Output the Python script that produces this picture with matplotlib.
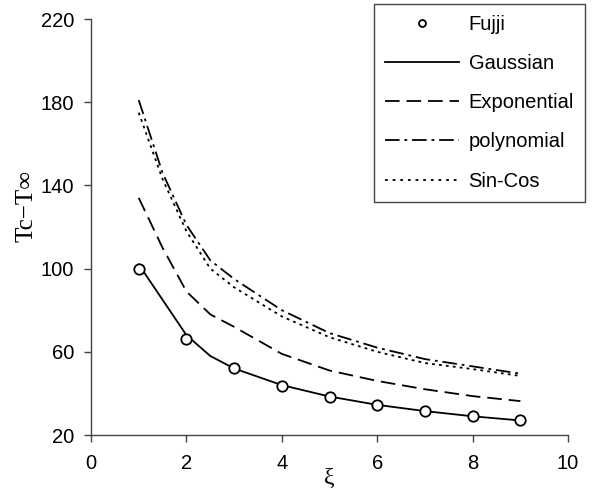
import matplotlib
matplotlib.use("Agg")
import matplotlib.pyplot as plt
from matplotlib.lines import Line2D

# values
xi_fujji = [1, 2, 3, 4, 5, 6, 7, 8, 9]
fujji = [100, 66, 52, 43.5, 38.3, 34.4, 31.5, 29.1, 27.2]

xi = [1, 1.5, 2, 2.5, 3, 4, 5, 6, 7, 8, 9]
gaussian = [102, 85, 68, 58, 52, 44, 38.5, 34.5, 31.5, 29, 27]
exponential = [134, 110, 89, 78, 72, 59, 51, 46, 42, 38.7, 36.3]
polynomial = [181, 146, 121, 104, 95, 80, 69, 62, 56.5, 53, 49.5]
sin_cos = [175, 143, 118, 100, 91, 77, 67, 60, 54.6, 51.7, 48.4]

plt.rcParams["font.family"] = ["Liberation Sans", "DejaVu Sans"]
plt.rcParams["lines.scale_dashes"] = False

fig = plt.figure(figsize=(5.93, 4.90), dpi=100)
ax = fig.add_axes([0.1535, 0.1122, 0.8045, 0.849])

lw = 1.3
dash = (10.5, 5)
dashdot = (10.5, 3.5, 2, 3.5)
dot = (2, 3.5)
ax.plot(xi, gaussian, color="black", lw=lw)
ax.plot(xi, exponential, color="black", lw=lw, dashes=dash)
ax.plot(xi, polynomial, color="black", lw=lw, dashes=dashdot)
ax.plot(xi, sin_cos, color="black", lw=lw, dashes=(2, 3))
ax.plot(xi_fujji, fujji, ls="none", marker="o", ms=7.5, mfc="white", mec="black",
        mew=1.3)

ax.set_xlim(0, 10)
ax.set_ylim(20, 220)
ax.set_xticks(range(0, 11, 2))
ax.set_yticks(range(20, 221, 40))
for side in ("top", "right"):
    ax.spines[side].set_visible(False)
for side in ("left", "bottom"):
    ax.spines[side].set_color("#444444")
    ax.spines[side].set_linewidth(1.0)
ax.tick_params(direction="out", length=5, width=1.0, color="#444444",
               labelsize=14.5)
ax.tick_params(axis="x", pad=9)
ax.tick_params(axis="y", pad=7)

ax.set_xlabel("ξ", family=["Liberation Serif", "DejaVu Serif"], fontsize=17)
ax.xaxis.set_label_coords(0.5, -0.105, transform=ax.transAxes)
ax.xaxis.label.set_va("center")
ax.set_ylabel("Tc−T∞", family=["Liberation Serif", "DejaVu Serif"], fontsize=18)
ax.yaxis.set_label_coords(-0.135, 0.55)
ax.yaxis.label.set_va("center")

# legend proxies (legend marker is smaller than the plotted ones)
h_fujji = Line2D([], [], ls="none", marker="o", ms=5, mfc="white", mec="black", mew=1.3)
h_gauss = Line2D([], [], color="black", lw=lw)
h_exp = Line2D([], [], color="black", lw=lw, dashes=dash)
h_poly = Line2D([], [], color="black", lw=lw, dashes=dashdot)
h_sc = Line2D([], [], color="black", lw=lw, dashes=dot)
leg = fig.legend([h_fujji, h_gauss, h_exp, h_poly, h_sc],
                 ["Fujji", "Gaussian", "Exponential", "polynomial", "Sin-Cos"],
                 loc="upper right", bbox_to_anchor=(585 / 593, 1 - 4 / 490),
                 borderaxespad=0, fontsize=14.5, handlelength=3.7, handletextpad=0.45,
                 labelspacing=1.0, borderpad=0.55, fancybox=False,
                 edgecolor="#444444", framealpha=1)
leg.get_frame().set_linewidth(1.0)

fig.savefig("out.png", dpi=100)
